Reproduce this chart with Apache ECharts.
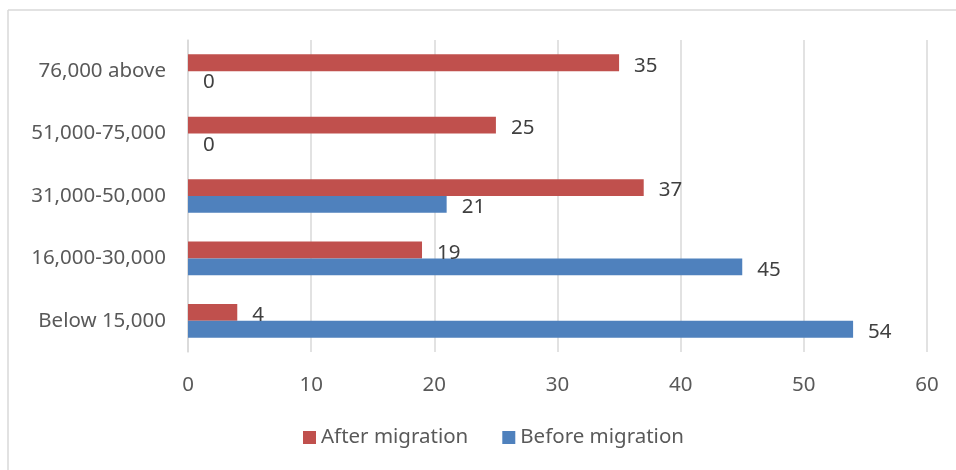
<!DOCTYPE html>
<html>
<head>
<meta charset="utf-8">
<script src="https://cdn.jsdelivr.net/npm/echarts@6/dist/echarts.min.js"></script>
<style>
  html, body { margin: 0; padding: 0; background: #fff; }
  #chart { width: 956px; height: 470px; }
</style>
</head>
<body>
<div id="chart"></div>
<script>
// Monthly income brackets, listed bottom to top
const categories = ['Below 15,000', '16,000-30,000', '31,000-50,000', '51,000-75,000', '76,000 above'];
const afterMigration = [4, 19, 37, 25, 35];
const beforeMigration = [54, 45, 21, 0, 0];
const xTicks = [0, 10, 20, 30, 40, 50, 60];

const FONT = '"Noto Sans", "Open Sans", sans-serif';

const chart = echarts.init(document.getElementById('chart'), null, { renderer: 'canvas' });

const labelStyle = {
  show: true,
  position: 'right',
  distance: 15,
  offset: [0, 3],
  color: '#404040',
  fontSize: 20.5,
  fontFamily: FONT
};

chart.setOption({
  animation: false,
  backgroundColor: '#ffffff',
  textStyle: { fontFamily: FONT },
  graphic: [
    { type: 'line', shape: { x1: 8, y1: 10, x2: 8, y2: 470 }, style: { stroke: '#d9d9d9', lineWidth: 1.5 } },
    { type: 'line', shape: { x1: 8, y1: 10, x2: 956, y2: 10 }, style: { stroke: '#d9d9d9', lineWidth: 1.5 } }
  ],
  legend: {
    data: ['After migration', 'Before migration'],
    bottom: 17,
    left: 298,
    itemWidth: 13,
    itemHeight: 13,
    itemGap: 34,
    icon: 'rect',
    textStyle: { color: '#595959', fontSize: 20.5, fontFamily: FONT }
  },
  grid: { left: 188, right: 29, top: 40, bottom: 118, containLabel: false },
  xAxis: {
    type: 'value',
    min: xTicks[0],
    max: xTicks[xTicks.length - 1],
    interval: xTicks[1] - xTicks[0],
    axisLine: { show: false },
    axisTick: { show: false },
    axisLabel: { color: '#595959', fontSize: 20.5, margin: 23, fontFamily: FONT },
    splitLine: { lineStyle: { color: '#d9d9d9', width: 1.5 } }
  },
  yAxis: {
    type: 'category',
    data: categories,
    axisLine: { lineStyle: { color: '#d9d9d9', width: 1.5 } },
    axisTick: { show: false },
    axisLabel: { color: '#595959', fontSize: 20.5, margin: 22, fontFamily: FONT }
  },
  series: [
    {
      name: 'After migration',
      type: 'bar',
      data: afterMigration,
      itemStyle: { color: '#c0504d' },
      barGap: '0%',
      barCategoryGap: '46%',
      label: labelStyle
    },
    {
      name: 'Before migration',
      type: 'bar',
      data: beforeMigration,
      itemStyle: { color: '#4f81bd' },
      barGap: '0%',
      barCategoryGap: '46%',
      label: labelStyle
    }
  ]
});
</script>
</body>
</html>
